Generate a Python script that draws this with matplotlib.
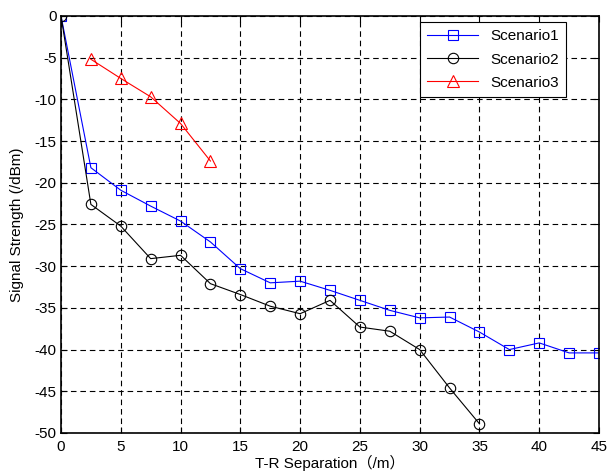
import matplotlib
matplotlib.use("Agg")
import matplotlib.pyplot as plt

plt.rcParams['font.family'] = ['Liberation Sans', 'Noto Sans CJK SC', 'DejaVu Sans']

# distances (m)
x1 = [0, 2.5, 5, 7.5, 10, 12.5, 15, 17.5, 20, 22.5, 25, 27.5, 30, 32.5, 35, 37.5, 40, 42.5, 45]
x2 = [0, 2.5, 5, 7.5, 10, 12.5, 15, 17.5, 20, 22.5, 25, 27.5, 30, 32.5, 35]
x3 = [2.5, 5, 7.5, 10, 12.5]

# signal strength (dBm)
s1 = [0, -18.2, -20.9, -22.8, -24.6, -27.1, -30.3, -32.0, -31.8, -32.9, -34.1,
      -35.3, -36.2, -36.1, -37.9, -40.0, -39.2, -40.4, -40.4]
s2 = [0, -22.6, -25.2, -29.1, -28.7, -32.1, -33.4, -34.8, -35.7, -34.1, -37.3,
      -37.8, -40.0, -44.6, -48.9]
s3 = [-5.2, -7.5, -9.7, -12.9, -17.4]

labels = ['Scenario1', 'Scenario2', 'Scenario3']
xticks = [0, 5, 10, 15, 20, 25, 30, 35, 40, 45]
yticks = [0, -5, -10, -15, -20, -25, -30, -35, -40, -45, -50]

fig = plt.figure(figsize=(6.1, 4.74), dpi=100)
ax = fig.add_axes([0.1, 0.0865, 0.882, 0.88])

ax.plot(x1, s1, color='blue', lw=0.8, marker='s', ms=7.5, mfc='none', mew=0.8, label=labels[0])
ax.plot(x2, s2, color='black', lw=0.8, marker='o', ms=7.5, mfc='none', mew=0.8, label=labels[1])
ax.plot(x3, s3, color='red', lw=0.8, marker='^', ms=9, mfc='none', mew=0.8, label=labels[2])

ax.set_xlim(0, 45)
ax.set_ylim(-50, 0)
ax.set_xticks(xticks)
ax.set_yticks(yticks)
ax.set_yticklabels([str(v) for v in yticks])
ax.grid(True, color='black', ls=(0, (5, 3.5)), lw=0.8)
ax.tick_params(direction='in', top=True, right=True, labelsize=11, length=4)
ax.tick_params(axis='x', pad=5)
ax.tick_params(axis='y', pad=3)
for sp in ax.spines.values():
    sp.set_linewidth(1.2)

ax.set_xlabel('T-R Separation（/m）', fontsize=11, labelpad=1)
ax.set_ylabel('Signal Strength (/dBm)', fontsize=11, labelpad=8)

leg = ax.legend(loc='upper right', bbox_to_anchor=(0.939, 0.986), fancybox=False,
                framealpha=1, edgecolor='black', fontsize=11, borderaxespad=0,
                handlelength=3.3, labelspacing=0.6, borderpad=0.5)
leg.get_frame().set_linewidth(0.8)

fig.savefig('out.png', dpi=100)
